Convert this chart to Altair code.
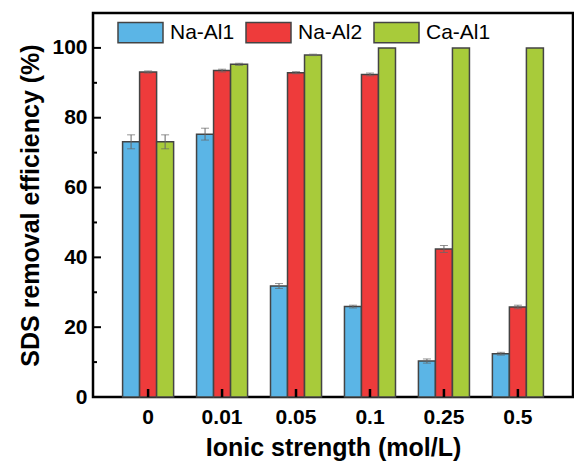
import altair as alt
import pandas as pd

strengths = ["0", "0.01", "0.05", "0.1", "0.25", "0.5"]
series = ["Na-Al1", "Na-Al2", "Ca-Al1"]
na_al1 = [73.1, 75.3, 31.8, 25.9, 10.3, 12.4]
na_al1_err = [2.0, 1.7, 0.7, 0.4, 0.6, 0.4]
na_al2 = [93.1, 93.5, 92.9, 92.4, 42.4, 25.8]
na_al2_err = [0.3, 0.4, 0.3, 0.4, 1.0, 0.5]
ca_al1 = [73.1, 95.3, 98.0, 100.0, 100.0, 100.0]
ca_al1_err = [2.0, 0.3, 0.2, 0.0, 0.0, 0.0]
colors = ["#5BB5E6", "#EE3B3B", "#A8CB3A"]
y_major = [0, 20, 40, 60, 80, 100]
y_minor = [10, 30, 50, 70, 90]

rows = []
for s, vals, errs in zip(series, [na_al1, na_al2, ca_al1], [na_al1_err, na_al2_err, ca_al1_err]):
    for k, v, e in zip(strengths, vals, errs):
        rows.append({"strength": k, "series": s, "value": v, "lo": v - e, "hi": v + e, "err": e})
df = pd.DataFrame(rows)

FONT = "Liberation Sans"
W, H = 480, 384

xscale = alt.Scale(domain=strengths, paddingInner=0.31, paddingOuter=0.40)
yscale = alt.Scale(domain=[0, 110], nice=False)

xaxis = alt.Axis(title="Ionic strength (mol/L)", labelAngle=0, ticks=False, domain=False, grid=False,
                 labelFont=FONT, labelFontSize=21, labelFontWeight="bold", labelColor="black",
                 labelPadding=9, titleFont=FONT, titleFontSize=25, titleFontWeight="bold",
                 titleColor="black", titlePadding=8)
yaxis = alt.Axis(title="SDS removal efficiency (%)", values=y_major, ticks=False, domain=False, grid=False,
                 labelFont=FONT, labelFontSize=21, labelFontWeight="bold", labelColor="black",
                 labelPadding=6, titleFont=FONT, titleFontSize=25, titleFontWeight="bold",
                 titleColor="black", titlePadding=8)

X = alt.X("strength:N", sort=strengths, scale=xscale, axis=xaxis)
XO = alt.XOffset("series:N", sort=series, scale=alt.Scale(domain=series, paddingInner=0, paddingOuter=0))

bars = alt.Chart(df).mark_bar(stroke="#444444", strokeWidth=1.5, opacity=1).encode(
    x=X, xOffset=XO,
    y=alt.Y("value:Q", scale=yscale, axis=yaxis),
    color=alt.Color("series:N", sort=series, scale=alt.Scale(domain=series, range=colors),
                    legend=alt.Legend(orient="none", legendX=24, legendY=-4, direction="horizontal",
                                      title=None, symbolType="M-1,-0.45H1V0.45H-1Z", symbolSize=2025,
                                      symbolStrokeColor="#444444", symbolStrokeWidth=1.5,
                                      symbolOpacity=1, labelFont=FONT, labelFontSize=21,
                                      labelColor="black", labelOffset=6, columnPadding=8, padding=0)),
)

err_df = alt.Chart(df).transform_filter("datum.err > 0")
err_rule = err_df.mark_rule(color="#666666", strokeWidth=1).encode(
    x=X, xOffset=XO, y=alt.Y("lo:Q", scale=yscale, axis=yaxis), y2="hi:Q")
cap_lo = err_df.mark_tick(color="#666666", thickness=1, size=8, orient="horizontal").encode(
    x=X, xOffset=XO, y=alt.Y("lo:Q", scale=yscale, axis=yaxis))
cap_hi = err_df.mark_tick(color="#666666", thickness=1, size=8, orient="horizontal").encode(
    x=X, xOffset=XO, y=alt.Y("hi:Q", scale=yscale, axis=yaxis))

xt = alt.Chart(pd.DataFrame({"strength": strengths})).mark_rule(color="black", strokeWidth=2.5).encode(
    x=X, y=alt.value(H - 8), y2=alt.value(H))
yt = alt.Chart(pd.DataFrame({"v": y_major})).mark_rule(color="black", strokeWidth=2).encode(
    y=alt.Y("v:Q", scale=yscale, axis=yaxis), x=alt.value(0), x2=alt.value(8))
ytm = alt.Chart(pd.DataFrame({"v": y_minor})).mark_rule(color="black", strokeWidth=2).encode(
    y=alt.Y("v:Q", scale=yscale, axis=yaxis), x=alt.value(0), x2=alt.value(4))

chart = alt.layer(bars, err_rule, cap_lo, cap_hi, xt, yt, ytm).properties(
    width=W, height=H,
    autosize=alt.AutoSizeParams(type="none"),
    padding={"left": 93, "top": 13, "right": 1, "bottom": 64},
    background="white",
).configure_view(stroke="black", strokeWidth=2.5)

chart.save("out.html", embed_options={"renderer": "svg", "actions": False})
